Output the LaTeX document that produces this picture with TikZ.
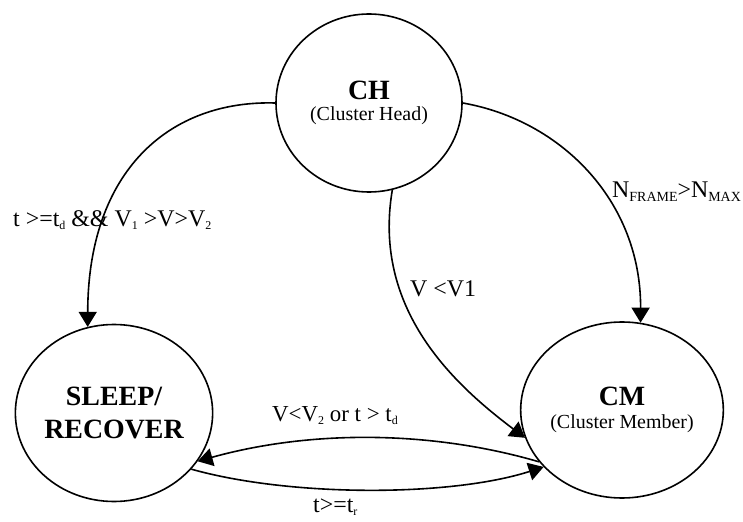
\documentclass[tikz,border=0pt]{standalone}
\usepackage{fontspec}
\setmainfont{Liberation Serif}
\usetikzlibrary{arrows.meta,shapes.geometric}
\newcommand{\lsb}[1]{\raisebox{-3bp}{\fontsize{12}{12}\selectfont #1}}
\newcommand{\lsc}[1]{\raisebox{-4bp}{\fontsize{14}{14}\selectfont #1}}
\begin{document}
\begin{tikzpicture}[x=1bp,y=-1bp,
  state/.style={ellipse, draw, line width=1.6bp, inner sep=0pt, align=center},
  arr/.style={line width=1.6bp, -{Triangle[length=15bp,width=18bp]}},
  lbl/.style={anchor=base west, inner sep=0pt, font=\fontsize{24}{24}\selectfont}]
\useasboundingbox (0,0) rectangle (743,522);
\node[state, minimum width=186bp, minimum height=178bp, font=\fontsize{20}{21}\selectfont] (CH) at (369,103)
  {{\fontsize{28}{28}\selectfont\bfseries CH}\\(Cluster Head)};
\node[state, minimum width=196bp, minimum height=177bp, font=\fontsize{28}{33}\selectfont\bfseries] (SL) at (114,413)
  {SLEEP/\\RECOVER};
\node[state, minimum width=195bp, minimum height=176bp, font=\fontsize{20}{23}\selectfont] (CM) at (622,410)
  {{\fontsize{28}{28}\selectfont\bfseries CM}\\(Cluster Member)};
\draw[arr] (CH.west) .. controls (170,100) and (88,170) .. (SL.107);
\draw[arr] (CH.east) .. controls (560,120) and (641,200) .. (CM.78);
\draw[arr] (CH.-75) .. controls (372,310) and (455,385) .. (CM.196);
\draw[arr] (CM.212) .. controls (430,430) and (310,430) .. (SL.-30);
\draw[arr] (SL.-36) .. controls (290,497) and (450,497) .. (CM.216);
\node[lbl] (l1) at (13,227) {t >=t\lsb{d} \&\& V\lsb{1} >V>V\lsb{2}};
\node[lbl] (l2) at (612,198) {N\lsc{FRAME}>N\lsc{MAX}};
\node[lbl] (l3) at (410,297) {V <V1};
\node[lbl, font=\fontsize{23}{23}\selectfont] (l4) at (272,421) {V<V\lsb{2} or t > t\lsb{d}};
\node[lbl] (l5) at (313,512) {t>=t\lsb{r}};
\end{tikzpicture}
\end{document}
